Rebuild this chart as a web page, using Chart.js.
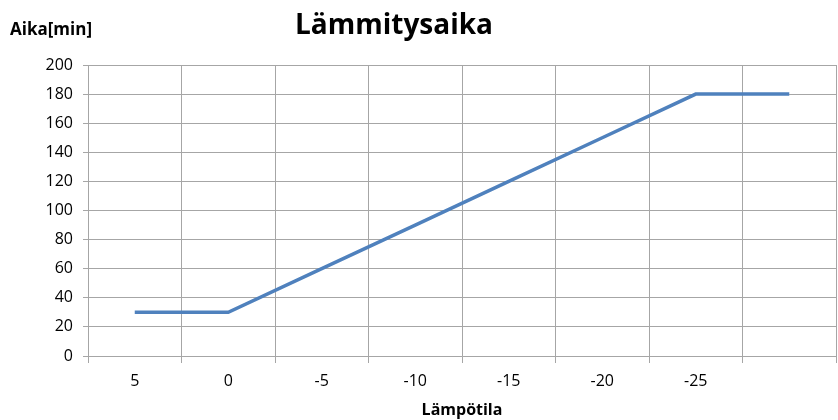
<!DOCTYPE html>
<html>
<head>
<meta charset="utf-8">
<script src="https://cdn.jsdelivr.net/npm/chart.js@4/dist/chart.umd.min.js"></script>
<style>
  html, body { margin: 0; padding: 0; background: #fff; }
  #wrap { width: 838px; height: 420px; }
</style>
</head>
<body>
<div id="wrap"><canvas id="canvas-line"></canvas></div>
<script>
// temperatures (last category has no label in the original)
var temps = ["5", "0", "-5", "-10", "-15", "-20", "-25", ""];
// heating time in minutes
var heatTime = [30, 30, 60, 90, 120, 150, 180, 180];
var yTicks = [0, 20, 40, 60, 80, 100, 120, 140, 160, 180, 200];

var FONT = "'Open Sans', sans-serif";
var GRID = "#a6a6a6";

// title + y axis caption, drawn like Excel does
var titles = {
  id: "titles",
  afterDraw: function (chart) {
    var ctx = chart.ctx;
    ctx.save();
    ctx.fillStyle = "#000";
    ctx.textBaseline = "middle";
    ctx.textAlign = "center";
    ctx.font = "bold 28px " + FONT;
    ctx.fillText("Lämmitysaika", 394, 26);
    ctx.textAlign = "left";
    ctx.font = "bold 17px " + FONT;
    ctx.fillText("Aika[min]", 10, 30);
    ctx.restore();
  }
};

var ctx = document.getElementById("canvas-line").getContext("2d");
var chart = new Chart(ctx, {
  type: "line",
  data: {
    labels: temps,
    datasets: [
      {
        label: "Lämmitysaika",
        data: heatTime,
        borderColor: "#4f81bd",
        borderWidth: 3.5,
        pointRadius: 0,
        tension: 0,
        fill: false
      }
    ]
  },
  options: {
    responsive: true,
    maintainAspectRatio: false,
    animation: false,
    layout: { padding: { left: 0, right: 2, top: 65, bottom: 0 } },
    plugins: {
      legend: { display: false },
      tooltip: { enabled: false }
    },
    scales: {
      x: {
        type: "category",
        offset: true,
        grid: { offset: true, color: GRID, tickLength: 7, drawTicks: true },
        border: { color: GRID },
        ticks: {
          color: "#000",
          font: { family: FONT, size: 16 },
          padding: 9,
          maxRotation: 0,
          autoSkip: false
        },
        title: {
          display: true,
          text: "Lämpötila",
          color: "#000",
          font: { family: FONT, size: 16, weight: "bold" },
          padding: { top: 8, bottom: 0 }
        },
        afterFit: function (scale) { scale.height = 64; }
      },
      y: {
        min: 0,
        max: 200,
        afterBuildTicks: function (scale) {
          scale.ticks = yTicks.map(function (v) { return { value: v }; });
        },
        grid: { color: GRID, tickLength: 5 },
        border: { color: GRID },
        ticks: {
          color: "#000",
          font: { family: FONT, size: 16 },
          padding: 10
        },
        afterFit: function (scale) { scale.width = 88; }
      }
    }
  },
  plugins: [titles]
});
chart.render();
</script>
</body>
</html>
